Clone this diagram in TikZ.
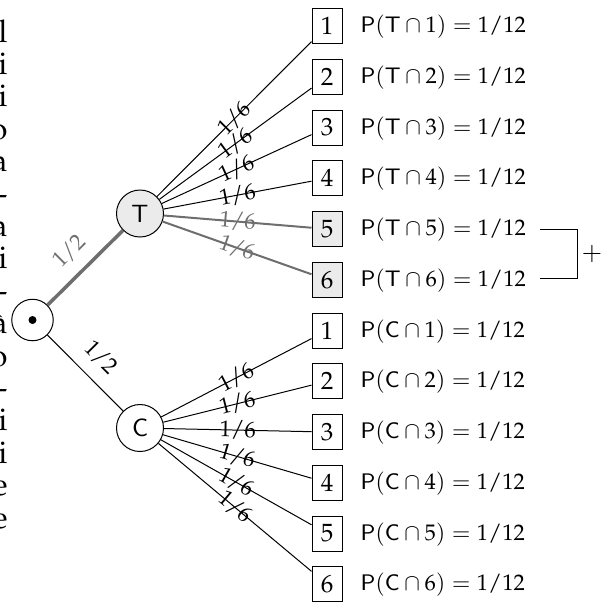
\documentclass[tikz,border=0pt]{standalone}
\usepackage[T1]{fontenc}
\usepackage{mathpazo}
\definecolor{lightg}{HTML}{EBEBEB}
\definecolor{darkg}{HTML}{6E6E6E}
\begin{document}
\begin{tikzpicture}[x=0.4pt,y=-0.4pt,
  circnode/.style={draw, circle, minimum size=18.8pt, inner sep=0pt},
  rootnode/.style={draw, circle, minimum size=16.6pt, inner sep=0pt},
  numbox/.style={draw, rectangle, minimum width=12pt, minimum height=14pt, inner sep=0pt},
  hl/.style={fill=lightg},
  lab/.style={sloped, font=\small, inner sep=1pt},
  glab/.style={lab, text=darkg},
  halflab/.style={lab, above=3.7pt},
  gedge/.style={draw=darkg, line width=0.8pt},
  thickedge/.style={draw=darkg, line width=1.4pt},
  prob/.style={anchor=base west, inner sep=0pt, font=\small},
  margin/.style={anchor=base east, inner sep=0pt, font=\fontsize{12.5}{14}\selectfont}
]
\useasboundingbox (0,0) rectangle (605,603);
% clipped margin text
\foreach \t [count=\k from 0] in {l,i,i,o,a,-,a,i,-,\`a,o,-,i,i,e,e}
  \node[margin] (m\k) at (8,42+32.4*\k) {\t};
% tree nodes
\node[rootnode] (r) at (32.5,320) {};
\fill (r.center) circle (1.6pt);
\node[circnode, hl] (T) at (140,213.5) {$\mathsf{T}$};
\node[circnode] (C) at (140,428) {$\mathsf{C}$};
% leaves
\foreach \i in {1,...,4}
  \node[numbox] (t\i) at (327,26+50.75*\i-50.75) {\i};
\foreach \i in {5,6}
  \node[numbox, hl] (t\i) at (327,26+50.75*\i-50.75) {\i};
\foreach \i in {1,...,6}
  \node[numbox] (c\i) at (327,26+50.75*\i+253.75) {\i};
% probabilities
\foreach \i in {1,...,6}{
  \node[prob] (pt\i) at (360,32.7+50.75*\i-50.75) {$\mathsf{P}(\mathsf{T}\cap \i)=1/12$};
  \node[prob] (pc\i) at (360,32.7+50.75*\i+253.75) {$\mathsf{P}(\mathsf{C}\cap \i)=1/12$};
}
% edges
\draw[thickedge] (r) -- node[halflab, text=darkg] {1/2} (T);
\draw (r) -- node[halflab] {1/2} (C);
\foreach \i in {1,...,4}
  \draw (T) -- node[lab] {1/6} (t\i);
\foreach \i in {5,6}
  \draw[gedge] (T) -- node[glab] {1/6} (t\i);
\foreach \i in {1,...,6}
  \draw (C) -- node[lab] {1/6} (c\i);
% bracket
\coordinate (b5) at (540,229);
\coordinate (b6) at (540,278);
\coordinate (bc) at (577,253.5);
\draw (b5) -| (bc) |- (b6);
\node (plus) at (592,253.5) {$+$};
\end{tikzpicture}
\end{document}
